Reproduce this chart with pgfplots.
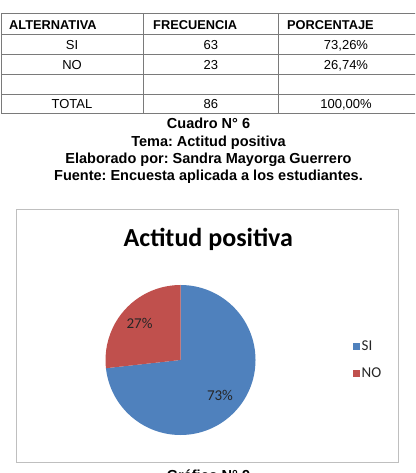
\documentclass[border=0pt]{standalone}
\usepackage{pgfplots}
\pgfplotsset{compat=1.18}
\usepackage{pgfplotstable}
\usepackage{fontspec}
\setmainfont{Liberation Sans}
\newfontfamily\calibri{Carlito}
\definecolor{siblue}{HTML}{4F81BD}
\definecolor{nored}{HTML}{C0504D}
\definecolor{tline}{HTML}{7A7A7A}
\definecolor{boxgray}{HTML}{BFBFBF}
\frenchspacing

\pgfplotstableread{
label value
SI 63
NO 23
}\piedata

\begin{document}%
\begin{tikzpicture}[x=1bp,y=1bp]
\pgfplotstablegetelem{0}{value}\of\piedata \pgfmathsetmacro{\vsi}{\pgfplotsretval}
\pgfplotstablegetelem{1}{value}\of\piedata \pgfmathsetmacro{\vno}{\pgfplotsretval}
\pgfmathsetmacro{\frsi}{\vsi/(\vsi+\vno)}
\pgfmathsetmacro{\angsi}{360*\frsi}
\pgfmathsetmacro{\endsi}{90-\angsi}
\pgfmathsetmacro{\endno}{450-\angsi}
\pgfmathsetmacro{\midsi}{90-\angsi/2}
\pgfmathsetmacro{\midno}{90+(360-\angsi)/2}
\useasboundingbox (0,0) rectangle (415,473);
\clip (0,0) rectangle (415,473);
\fill[white] (0,0) rectangle (415,473);
\coordinate (pc) at (180.5,113);
% ---- table ----
\begin{scope}[tline, line width=1bp]
\foreach \yy in {459,438,418.5,398.7,378.7,359.7} \draw (1,\yy) -- (420,\yy);
\foreach \xx in {1,143.3,278.3} \draw (\xx,459) -- (\xx,359.7);
\end{scope}
\begin{scope}[every node/.style={inner sep=0pt, anchor=base west, font=\bfseries\fontsize{12.8bp}{15bp}\selectfont}]
\node at (9,443.5) {ALTERNATIVA};
\node at (153,443.5) {FRECUENCIA};
\node at (287,443.5) {PORCENTAJE};
\end{scope}
\begin{scope}[every node/.style={inner sep=0pt, anchor=base, font=\fontsize{13bp}{15bp}\selectfont}]
\node at (72,423.6) {SI};
\node at (210.8,423.6) {63};
\node at (346,423.6) {73,26\%};
\node at (72,403.9) {NO};
\node at (210.8,403.9) {23};
\node at (346,403.9) {26,74\%};
\node at (72,364.5) {TOTAL};
\node at (210.8,364.5) {86};
\node at (346,364.5) {100,00\%};
\end{scope}
% ---- captions ----
\begin{scope}[every node/.style={inner sep=0pt, anchor=base, font=\bfseries\fontsize{14.5bp}{17bp}\selectfont}]
\node at (208.5,344.8) {Cuadro N° 6};
\node at (208.5,326.8) {Tema: Actitud positiva};
\node at (208.5,309.8) {Elaborado por: Sandra Mayorga Guerrero};
\node at (208.5,292.8) {Fuente: Encuesta aplicada a los estudiantes.};
\node at (208.5,-7.5) {Gráfico N° 9};
\end{scope}
% ---- chart box ----
\draw[boxgray, line width=1bp] (16.5,10) rectangle (398,263.3);
\node[inner sep=0pt, anchor=base, font=\calibri\bfseries\fontsize{26bp}{30bp}\selectfont] at (208.3,226) {Actitud positiva};
\begin{axis}[x=1bp, y=1bp, xmin=-75, xmax=75, ymin=-75, ymax=75,
  hide axis, clip=false, anchor=origin, at={(pc)},
  legend image code/.code={\fill[#1] (0bp,-3.5bp) rectangle (7bp,3.5bp);},
  legend style={at={(1.6467,0.5)}, anchor=west, draw=none, fill=none,
    inner sep=0pt, row sep=11.5bp, text=black!85,
    font=\calibri\fontsize{15bp}{17bp}\selectfont},
  legend cell align=left]
\fill[siblue] (axis cs:0,0) -- (axis cs:0,75) arc[start angle=90, end angle=\endsi, radius=75bp] -- cycle;
\fill[nored] (axis cs:0,0) -- (axis cs:0,75) arc[start angle=90, end angle=\endno, radius=75bp] -- cycle;
\node[font=\calibri\fontsize{15bp}{17bp}\selectfont, text=black!85] at (axis cs:{53*cos(\midsi)},{53*sin(\midsi)}) {73\%};
\node[font=\calibri\fontsize{15bp}{17bp}\selectfont, text=black!85] at (axis cs:{55*cos(\midno)},{55*sin(\midno)}) {27\%};
\addlegendimage{fill=siblue, draw=none}
\addlegendentry{SI}
\addlegendimage{fill=nored, draw=none}
\addlegendentry{NO}
\end{axis}
\end{tikzpicture}%
\end{document}
